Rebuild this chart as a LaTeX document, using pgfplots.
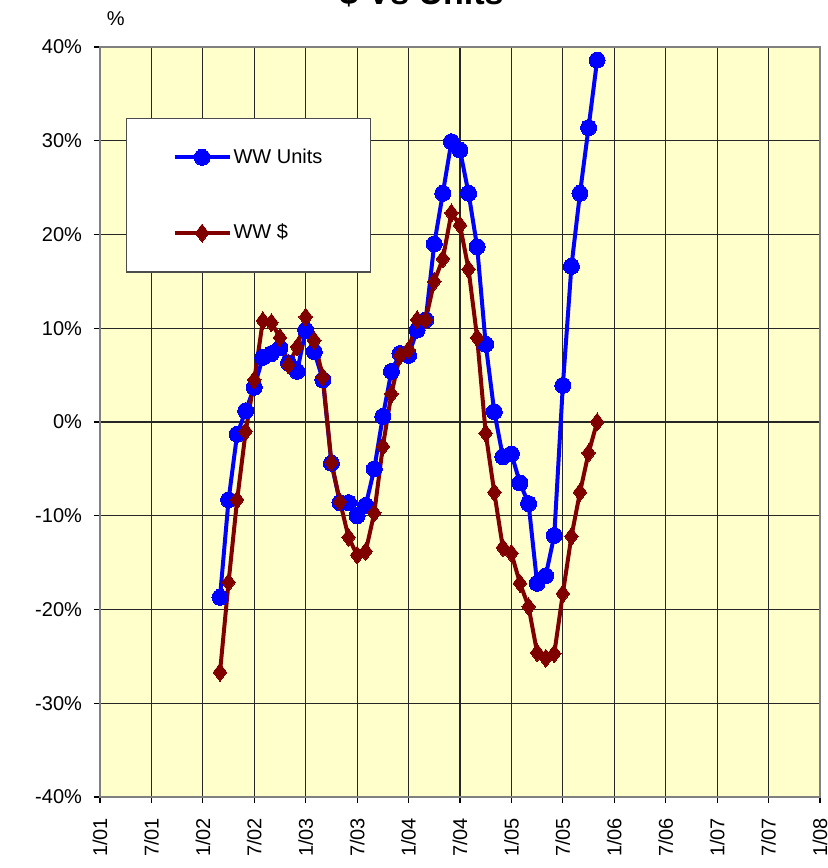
\documentclass[border=0pt]{standalone}
\usepackage{pgfplots}
\pgfplotsset{compat=1.18}
\usepackage{fontspec}
\setmainfont{Liberation Sans}
\definecolor{plotbg}{RGB}{255,255,204}
\definecolor{wwred}{RGB}{128,0,0}
\definecolor{wwblue}{RGB}{0,0,255}
\begin{document}
\begin{tikzpicture}
\begin{axis}[
  scale only axis, width=360pt, height=375pt,
  at={(0pt,0pt)}, anchor=south west,
  xmin=0, xmax=84, ymin=-40, ymax=40,
  xtick={0,6,...,84},
  xticklabels={1/01,7/01,1/02,7/02,1/03,7/03,1/04,7/04,1/05,7/05,1/06,7/06,1/07,7/07,1/08},
  ytick={-40,-30,...,40},
  yticklabels={-40\%,-30\%,-20\%,-10\%,0\%,10\%,20\%,30\%,40\%},
  xtick pos=bottom, ytick pos=left,
  grid=major, major grid style={black!85, line width=0.6pt},
  tick align=outside, major tick length=3pt, tick style={black, line width=0.6pt},
  axis background/.style={fill=plotbg},
  axis line style={gray, line width=1pt},
  ticklabel style={font=\fontsize{10}{12}\selectfont},
  xticklabel style={rotate=90, anchor=east, xshift=-4pt},
  yticklabel style={xshift=-2.5pt},
  /pgf/number format/assume math mode=true,
  title={\fontsize{17}{20}\selectfont\bfseries \$ Vs Units},
  title style={at={(rel axis cs:0.4465,1.04)}, anchor=base, inner sep=0pt},
  ylabel={\%}, ylabel style={rotate=-90, at={(rel axis cs:0.022,1.0373)}, anchor=center, font=\fontsize{10}{12}\selectfont},
  legend style={at={(rel axis cs:0.0361,0.9053)}, anchor=north west, fill=white, draw=black!70, line width=0.6pt,
    inner xsep=23pt, inner ysep=14pt, row sep=27pt, font=\fontsize{10}{12}\selectfont,
    nodes={inner sep=1pt}},
  legend cell align=left,
  legend image code/.code={\draw[#1, mark repeat=2, mark phase=2] plot coordinates {(0pt,0pt) (13.75pt,0pt) (27.5pt,0pt)};},
]
\addplot[wwblue, line width=2pt, mark=*, mark size=4pt, mark options={solid, fill=wwblue, draw=wwblue, line width=0pt}] coordinates {
(14,-18.7) (15,-8.3) (16,-1.3) (17,1.2) (18,3.7) (19,6.9) (20,7.3) (21,7.9) (22,6.3) (23,5.4)
(24,9.8) (25,7.5) (26,4.5) (27,-4.4) (28,-8.6) (29,-8.6) (30,-10.0) (31,-8.9) (32,-5.0) (33,0.6)
(34,5.4) (35,7.3) (36,7.1) (37,9.8) (38,10.9) (39,19.0) (40,24.4) (41,29.9) (42,29.0) (43,24.4)
(44,18.7) (45,8.3) (46,1.1) (47,-3.7) (48,-3.4) (49,-6.5) (50,-8.7) (51,-17.2) (52,-16.4) (53,-12.1)
(54,3.9) (55,16.6) (56,24.4) (57,31.4) (58,38.6)
};
\addlegendentry{WW Units}
\addplot[wwred, line width=2pt, mark=diamond*, mark size=4.5pt, mark options={solid, fill=wwred, draw=wwred, line width=0pt}] coordinates {
(14,-26.7) (15,-17.1) (16,-8.3) (17,-1.0) (18,4.5) (19,10.8) (20,10.6) (21,9.0) (22,6.1) (23,8.0)
(24,11.2) (25,8.7) (26,4.8) (27,-4.3) (28,-8.5) (29,-12.3) (30,-14.2) (31,-13.8) (32,-9.7) (33,-2.6)
(34,3.0) (35,7.1) (36,7.7) (37,10.9) (38,10.9) (39,15.0) (40,17.4) (41,22.3) (42,21.0) (43,16.3)
(44,9.0) (45,-1.2) (46,-7.5) (47,-13.4) (48,-14.0) (49,-17.2) (50,-19.7) (51,-24.6) (52,-25.2) (53,-24.7)
(54,-18.3) (55,-12.2) (56,-7.5) (57,-3.3) (58,0.0)
};
\addlegendentry{WW \$}
\end{axis}
\pgfresetboundingbox
\useasboundingbox (-50pt,-35.5pt) rectangle (364pt,398.5pt);
\end{tikzpicture}
\end{document}
